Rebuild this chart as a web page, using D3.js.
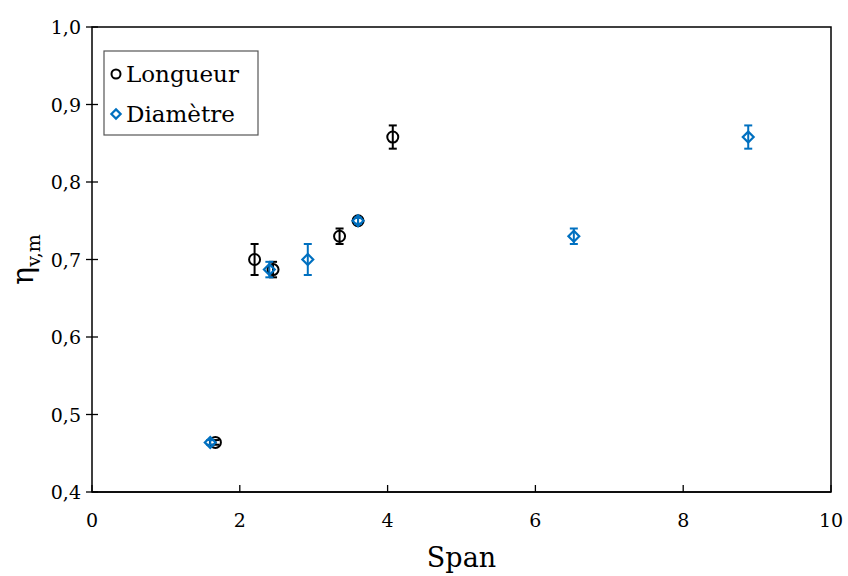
<!DOCTYPE html>
<html>
<head>
<meta charset="utf-8">
<script src="https://cdn.jsdelivr.net/npm/d3@7"></script>
</head>
<body style="margin:0">
<svg id="s" width="848" height="576"></svg>
<script>
// ---- data ----
const longueurSpan = [1.67, 2.20, 2.45, 3.35, 3.60, 4.07];
const longueurEta  = [0.464, 0.700, 0.687, 0.730, 0.750, 0.858];
const longueurErr  = [0.003, 0.020, 0.010, 0.010, 0.004, 0.015];

const diametreSpan = [1.60, 2.40, 2.92, 3.60, 6.52, 8.88];
const diametreEta  = [0.464, 0.687, 0.700, 0.750, 0.730, 0.858];
const diametreErr  = [0.003, 0.010, 0.020, 0.004, 0.010, 0.015];

const xTicks = [0, 2, 4, 6, 8, 10];
const yTicks = [0.4, 0.5, 0.6, 0.7, 0.8, 0.9, 1.0];
const seriesNames = ["Longueur", "Diamètre"];

const FAM = "DejaVu Serif";
function serif(sel, size) {
  return sel.attr("font-family", FAM).attr("font-size", size).attr("fill", "#000");
}

// ---- layout ----
const svg = d3.select("#s");
const margin = { left: 92, right: 17, top: 27, bottom: 84 };
const W = 848, H = 576;
const x = d3.scaleLinear().domain([0, 10]).range([margin.left, W - margin.right]);
const y = d3.scaleLinear().domain([0.4, 1.0]).range([H - margin.bottom, margin.top]);

const fmt = d => d3.format(".1f")(d).replace(".", ",");

// plot frame
svg.append("rect")
  .attr("x", x(0)).attr("y", y(1.0))
  .attr("width", x(10) - x(0)).attr("height", y(0.4) - y(1.0))
  .attr("fill", "none").attr("stroke", "#000").attr("stroke-width", 1.5);

// x axis (ticks inside)
const gx = svg.append("g").attr("transform", `translate(0,${y(0.4)})`);
gx.append("line").attr("x1", x(0)).attr("x2", x(10)).attr("stroke", "#000").attr("stroke-width", 1.5);
gx.selectAll("line.tk").data(xTicks).join("line").attr("class", "tk")
  .attr("x1", d => x(d)).attr("x2", d => x(d)).attr("y1", 0).attr("y2", -7)
  .attr("stroke", "#000").attr("stroke-width", 1.3);
serif(gx.selectAll("text.tl").data(xTicks).join("text").attr("class", "tl")
  .attr("x", d => x(d)).attr("y", 35).attr("text-anchor", "middle"), 19)
  .text(d3.format("d"));

// y axis (cross ticks)
const gy = svg.append("g").attr("transform", `translate(${x(0)},0)`);
gy.selectAll("line.tk").data(yTicks).join("line").attr("class", "tk")
  .attr("x1", -6).attr("x2", 6).attr("y1", d => y(d)).attr("y2", d => y(d))
  .attr("stroke", "#000").attr("stroke-width", 1.3);
serif(gy.selectAll("text.tl").data(yTicks).join("text").attr("class", "tl")
  .attr("x", -11).attr("y", d => y(d) + 7).attr("text-anchor", "end"), 19)
  .text(fmt);

// axis titles
serif(svg.append("text").attr("x", (x(0) + x(10)) / 2).attr("y", 567)
  .attr("text-anchor", "middle"), 27).text("Span");

const yl = serif(svg.append("text")
  .attr("transform", `translate(33,${(y(0.4) + y(1.0)) / 2}) rotate(-90)`)
  .attr("text-anchor", "middle"), 30);
yl.append("tspan").text("η");
yl.append("tspan").attr("dy", 7).attr("font-size", 19).text("v,m");

const black = "#000000", blue = "#0070C0";

function errBars(g, xs, ys, es, color) {
  const d = xs.map((v, i) => ({ x: v, y: ys[i], e: es[i] }));
  const gg = g.append("g");
  gg.selectAll("line.v").data(d).join("line")
    .attr("x1", p => x(p.x)).attr("x2", p => x(p.x))
    .attr("y1", p => y(p.y + p.e)).attr("y2", p => y(p.y - p.e))
    .attr("stroke", color).attr("stroke-width", 2);
  gg.selectAll("line.t").data(d).join("line")
    .attr("x1", p => x(p.x) - 4).attr("x2", p => x(p.x) + 4)
    .attr("y1", p => y(p.y + p.e)).attr("y2", p => y(p.y + p.e))
    .attr("stroke", color).attr("stroke-width", 2);
  gg.selectAll("line.b").data(d).join("line")
    .attr("x1", p => x(p.x) - 4).attr("x2", p => x(p.x) + 4)
    .attr("y1", p => y(p.y - p.e)).attr("y2", p => y(p.y - p.e))
    .attr("stroke", color).attr("stroke-width", 2);
}

const plot = svg.append("g");
errBars(plot, longueurSpan, longueurEta, longueurErr, black);
plot.append("g").selectAll("circle")
  .data(longueurSpan.map((v, i) => [v, longueurEta[i]])).join("circle")
  .attr("cx", d => x(d[0])).attr("cy", d => y(d[1])).attr("r", 5.5)
  .attr("fill", "none").attr("stroke", black).attr("stroke-width", 2);
errBars(plot, diametreSpan, diametreEta, diametreErr, blue);
const diamond = d3.symbol().type(d3.symbolDiamond2).size(75);
plot.append("g").selectAll("path")
  .data(diametreSpan.map((v, i) => [v, diametreEta[i]])).join("path")
  .attr("d", diamond)
  .attr("transform", d => `translate(${x(d[0])},${y(d[1])})`)
  .attr("fill", "none").attr("stroke", blue).attr("stroke-width", 2.2);

// legend
const lg = svg.append("g");
lg.append("rect").attr("x", 104).attr("y", 51).attr("width", 154).attr("height", 84)
  .attr("fill", "#fff").attr("stroke", "#555").attr("stroke-width", 1.2);
lg.append("circle").attr("cx", 116).attr("cy", 74).attr("r", 4.5)
  .attr("fill", "none").attr("stroke", black).attr("stroke-width", 2);
lg.append("path").attr("d", d3.symbol().type(d3.symbolDiamond2).size(55))
  .attr("transform", "translate(116,114)")
  .attr("fill", "none").attr("stroke", blue).attr("stroke-width", 2.2);
serif(lg.append("text").attr("x", 126).attr("y", 82), 23).text(seriesNames[0]);
serif(lg.append("text").attr("x", 126).attr("y", 122), 23).text(seriesNames[1]);
</script>
</body>
</html>
